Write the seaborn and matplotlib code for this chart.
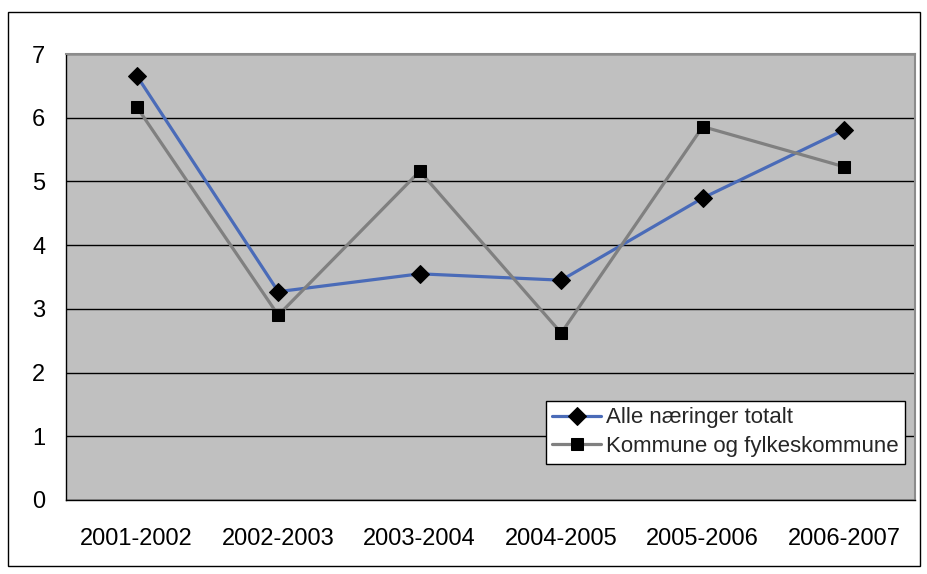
import matplotlib
matplotlib.use("Agg")
import matplotlib.pyplot as plt
from matplotlib.patches import Rectangle
import seaborn as sns
import pandas as pd

# data
periods = ["2001-2002", "2002-2003", "2003-2004", "2004-2005", "2005-2006", "2006-2007"]
alle = [6.66, 3.27, 3.55, 3.45, 4.74, 5.81]
kommune = [6.17, 2.90, 5.16, 2.62, 5.86, 5.23]
labels = ["Alle næringer totalt", "Kommune og fylkeskommune"]

df = pd.DataFrame({"periode": periods, "alle": alle, "kommune": kommune})

sns.set_theme(style="white")
plt.rcParams['font.family'] = ['Liberation Sans', 'DejaVu Sans']

fig = plt.figure(figsize=(9.28, 5.74), dpi=100)
ax = fig.add_axes([66 / 928, 74 / 574, 849 / 928, 446 / 574])
ax.set_facecolor("#C0C0C0")

sns.lineplot(data=df, x="periode", y="alle", ax=ax, color="#4A6BB8", linewidth=2.3,
             marker="D", markersize=9, markerfacecolor="black", markeredgecolor="black",
             label=labels[0], sort=False)
sns.lineplot(data=df, x="periode", y="kommune", ax=ax, color="#808080", linewidth=2.3,
             marker="s", markersize=8.5, markerfacecolor="black", markeredgecolor="black",
             label=labels[1], sort=False)

ax.set_xlim(-0.5, len(periods) - 0.5)
ax.set_ylim(0, 7)
ax.set_yticks(range(0, 8))
ax.yaxis.grid(True, color="black", linewidth=1)
ax.set_axisbelow(True)
ax.set_xlabel("")
ax.set_ylabel("")

ax.set_xticks(range(len(periods)))
ax.set_xticklabels(periods)
ax.set_xticks([i - 0.5 for i in range(len(periods) + 1)], minor=True)
ax.tick_params(axis="x", which="major", length=0, labelsize=17, pad=20)
ax.tick_params(axis="x", which="minor", length=6, width=1, color="black", direction="out")
ax.tick_params(axis="y", length=6, width=1, color="black", direction="out", labelsize=17, pad=9)
ax.tick_params(axis="both", colors="black", labelcolor="black")

for s in ["left", "bottom"]:
    ax.spines[s].set_color("black")
    ax.spines[s].set_linewidth(1)
for s in ["top", "right"]:
    ax.spines[s].set_color("#8C8C8C")
    ax.spines[s].set_linewidth(1.5)

leg = ax.legend(loc="lower right", bbox_to_anchor=(0.988, 0.081), fontsize=16,
                frameon=True, fancybox=False, shadow=False, framealpha=1,
                edgecolor="black", facecolor="white", borderpad=0.3,
                handlelength=2.2, handletextpad=0.2, labelspacing=0.35, borderaxespad=0)
leg.get_frame().set_linewidth(1)

fig.patches.append(Rectangle((8 / 928, 8 / 574), 912 / 928, 554 / 574,
                             transform=fig.transFigure, fill=False,
                             edgecolor="black", linewidth=1))

fig.savefig("out.png", dpi=100, facecolor="white")
